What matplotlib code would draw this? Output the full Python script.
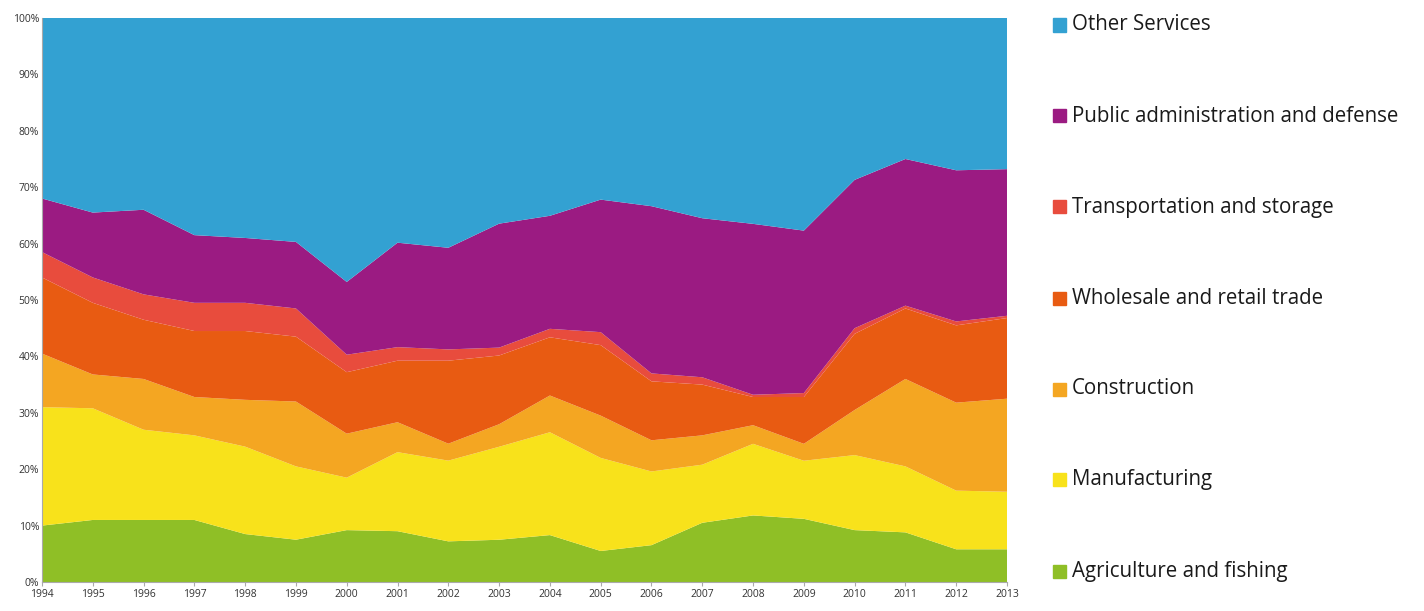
import matplotlib.pyplot as plt
import matplotlib.patches as mpatches
import numpy as np

# data (share of each sector, %)
years = list(range(1994, 2014))
sectors = ['Agriculture and fishing', 'Manufacturing', 'Construction',
           'Wholesale and retail trade', 'Transportation and storage',
           'Public administration and defense', 'Other Services']
agriculture = [10, 11, 11, 11, 8.5, 7.5, 9.2, 9, 7.2, 7.5, 8.3, 5.5, 6.5, 10.5, 11.8, 11.2, 9.2, 8.8, 5.8, 5.8]
manufacturing = [21, 19.8, 16, 15, 15.5, 13, 9.3, 14, 14.3, 16.5, 18.2, 16.5, 13, 10.3, 12.7, 10.3, 13.3, 11.7, 10.4, 10.2]
construction = [9.5, 6, 9, 6.8, 8.3, 11.5, 7.8, 5.3, 3, 4, 6.5, 7.5, 5.5, 5.2, 3.3, 3, 8, 15.5, 15.6, 16.5]
wholesale = [13.5, 12.7, 10.5, 11.7, 12.2, 11.5, 10.9, 10.9, 14.7, 12.2, 10.3, 12.5, 10.4, 9, 5, 8.3, 13.5, 12.5, 13.7, 14.3]
transport = [4.5, 4.5, 4.5, 5, 5, 5, 3.1, 2.4, 2.0, 1.4, 1.5, 2.3, 1.4, 1.3, 0.4, 0.7, 1, 0.5, 0.7, 0.4]
public = [9.5, 11.5, 15, 12, 11.5, 11.8, 12.9, 18.5, 18, 22, 20, 23.5, 29.5, 28.2, 30.3, 28.8, 26.3, 26, 26.8, 26]
other = [32, 34.5, 34, 38.5, 39, 39.7, 46.8, 39.8, 40.7, 36.5, 35, 32.2, 33.2, 35.5, 36.5, 37.7, 28.7, 25, 27, 26.8]

colors = ['#8fbf26', '#f8e21b', '#f4a622', '#e85b12', '#e84c3d', '#9b1b82', '#33a1d2']

plt.rcParams['font.family'] = ['Open Sans', 'DejaVu Sans']

fig = plt.figure(figsize=(14.24, 6.11), dpi=100)
ax = fig.add_axes([42 / 1424, 29 / 611, 965 / 1424, 564 / 611])

series = np.array([agriculture, manufacturing, construction, wholesale,
                   transport, public, other], dtype=float)
series = series / series.sum(axis=0) * 100
ax.stackplot(years, series, colors=colors, linewidth=0)

ax.set_xlim(1994, 2013)
ax.set_ylim(0, 100)
ax.set_xticks(years)
ax.set_xticklabels([str(y) for y in years], fontsize=7.5, color='#333333')
ax.set_yticks(range(0, 101, 10))
ax.set_yticklabels([f'{v}%' for v in range(0, 101, 10)], fontsize=7.5, color='#333333')
ax.tick_params(axis='x', length=3, color='#aaaaaa', pad=2)
ax.tick_params(axis='y', length=0, pad=2)
for s in ['top', 'right']:
    ax.spines[s].set_visible(False)
for s in ['left', 'bottom']:
    ax.spines[s].set_color('#aaaaaa')
    ax.spines[s].set_linewidth(0.8)

# legend on the right, top entry first
legend_y = [25, 116, 207, 298, 389, 480, 571]
for name, col, ypx in zip(sectors[::-1], colors[::-1], legend_y):
    yf = 1 - ypx / 611
    fig.patches.append(mpatches.Rectangle((1053 / 1424, yf - 6.5 / 611), 13 / 1424, 13 / 611,
                                          transform=fig.transFigure, color=col))
    fig.text(1072 / 1424, yf, name, fontsize=14.8, va='center', ha='left', color='#1a1a1a')

fig.savefig('out.png', dpi=100)
